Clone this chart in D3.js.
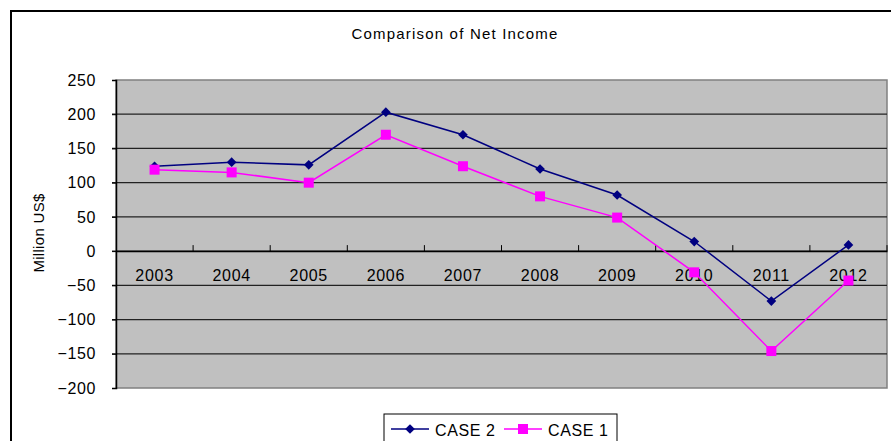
<!DOCTYPE html>
<html><head><meta charset="utf-8">
<script src="https://cdn.jsdelivr.net/npm/d3@7"></script>
<style>body{margin:0;background:#fff;}svg{display:block;}</style>
</head><body><svg id="c" width="891" height="441"></svg>
<script>
const years = ["2003","2004","2005","2006","2007","2008","2009","2010","2011","2012"];
const case2 = [124,130,126,203,170,120,82,14,-73,9];
const case1 = [119,115,100,170,124,80,49,-31,-146,-43];
const yTicks = [250,200,150,100,50,0,-50,-100,-150,-200];
const seriesNames = ["CASE 2","CASE 1"];

const svg = d3.select("#c");
const font = "'Liberation Sans', Arial, sans-serif";
// outer border
svg.append("rect").attr("x",11).attr("y",11).attr("width",900).attr("height",460)
  .attr("fill","#fff").attr("stroke","#000").attr("stroke-width",2);

const L=116,R=887,T=80,B=388;
const x = d3.scaleBand().domain(years).range([L,R]);
const y = d3.scaleLinear().domain([-200,250]).range([B,T]);

svg.append("rect").attr("x",L).attr("y",T).attr("width",R-L).attr("height",B-T)
  .attr("fill","#c0c0c0").attr("stroke","#808080").attr("stroke-width",1.5);

// gridlines
svg.append("g").selectAll("line").data(yTicks.filter(d=>d!==250&&d!==-200)).join("line")
  .attr("x1",L-4).attr("x2",R).attr("y1",d=>y(d)).attr("y2",d=>y(d))
  .attr("stroke","#222").attr("stroke-width",1.2);
// y axis
const ya = svg.append("g").attr("transform",`translate(${L},0)`)
  .call(d3.axisLeft(y).tickValues(yTicks).tickSize(4).tickPadding(16).tickFormat(d=>d<0?"\u2212"+(-d):d));
ya.select(".domain").attr("stroke","#000").attr("stroke-width",1.5);
ya.selectAll("text").attr("font-family",font).attr("font-size",16).attr("letter-spacing",0.6).attr("fill","#000");
// x axis at zero
const xa = svg.append("g").attr("transform",`translate(0,${y(0)})`)
  .call(d3.axisTop(x).tickSize(6).tickSizeOuter(0).tickFormat(""));
xa.select(".domain").attr("stroke","#000").attr("stroke-width",1.5);
xa.selectAll(".tick").remove();
const bandEdges = years.slice(1).map(d=>x(d));
xa.selectAll("line.t").data(bandEdges.concat([R])).join("line").attr("class","t")
  .attr("x1",d=>d).attr("x2",d=>d).attr("y1",0).attr("y2",-6).attr("stroke","#000");
svg.append("g").selectAll("text").data(years).join("text")
  .attr("x",d=>x(d)+x.bandwidth()/2).attr("y",y(0)+30).attr("text-anchor","middle")
  .attr("font-family",font).attr("font-size",16).attr("letter-spacing",0.7).text(d=>d);

const line = d3.line().x((d,i)=>x(years[i])+x.bandwidth()/2).y(d=>y(d));
svg.append("path").datum(case2).attr("d",line).attr("fill","none").attr("stroke","#000080").attr("stroke-width",1.5);
svg.append("path").datum(case1).attr("d",line).attr("fill","none").attr("stroke","#ff00ff").attr("stroke-width",1.5);
const diamond = d3.symbol().type(d3.symbolDiamond2).size(60);
svg.append("g").selectAll("path").data(case2).join("path")
  .attr("d",diamond).attr("transform",(d,i)=>`translate(${x(years[i])+x.bandwidth()/2},${y(d)})`).attr("fill","#000080");
svg.append("g").selectAll("rect").data(case1).join("rect")
  .attr("x",(d,i)=>x(years[i])+x.bandwidth()/2-5).attr("y",d=>y(d)-5).attr("width",10).attr("height",10).attr("fill","#ff00ff");

// title
svg.append("text").attr("x",455).attr("y",39).attr("text-anchor","middle")
  .attr("font-family",font).attr("font-size",15).attr("letter-spacing",1.2).text("Comparison of Net Income");
// y title
svg.append("text").attr("transform","translate(44,233) rotate(-90)").attr("text-anchor","middle")
  .attr("font-family",font).attr("font-size",15).attr("letter-spacing",0.3).text("Million US$");

// legend
svg.append("rect").attr("x",384).attr("y",414).attr("width",233).attr("height",40)
  .attr("fill","#fff").attr("stroke","#000").attr("stroke-width",1);
const lg = [{n:seriesNames[0],c:"#000080",x:391,t:435},{n:seriesNames[1],c:"#ff00ff",x:504,t:548}];
lg.forEach((g,i)=>{
  svg.append("line").attr("x1",g.x).attr("x2",g.x+38).attr("y1",429).attr("y2",429).attr("stroke",g.c).attr("stroke-width",1.5);
  if(i===0) svg.append("path").attr("d",diamond).attr("transform",`translate(${g.x+19},429)`).attr("fill",g.c);
  else svg.append("rect").attr("x",g.x+14).attr("y",424).attr("width",10).attr("height",10).attr("fill",g.c);
  svg.append("text").attr("x",g.t).attr("y",436).attr("font-family",font).attr("font-size",16).attr("letter-spacing",0.6).text(g.n);
});
</script></body></html>
